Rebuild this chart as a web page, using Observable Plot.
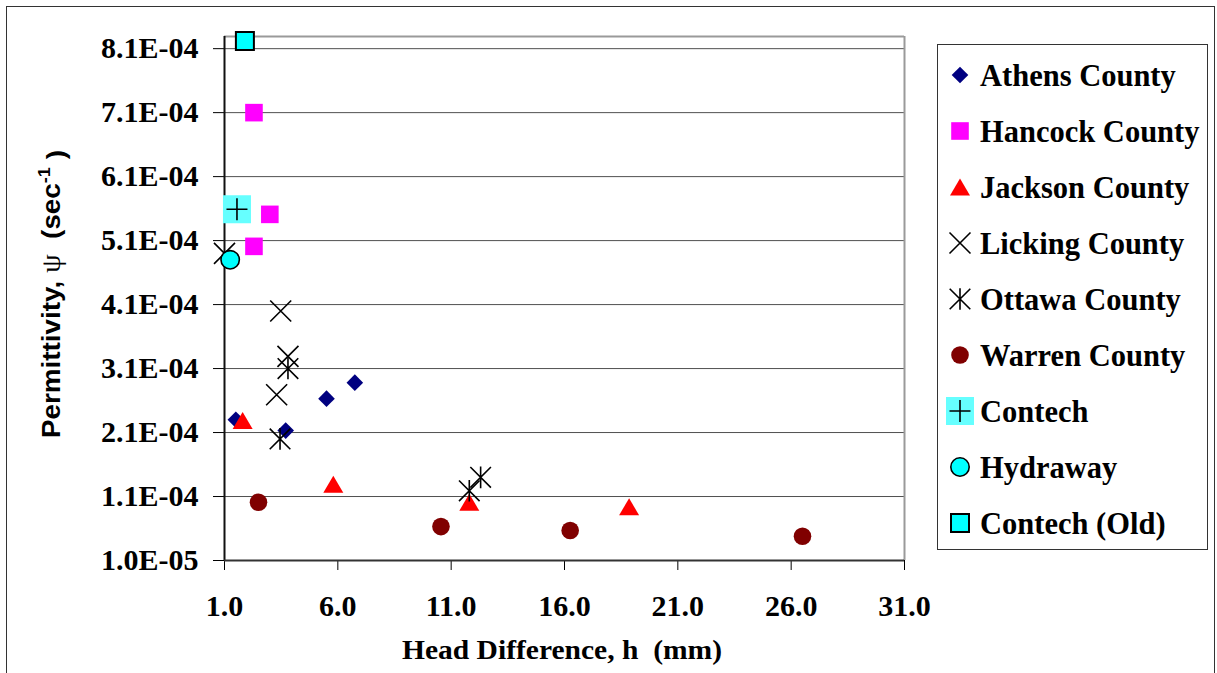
<!DOCTYPE html>
<html>
<head>
<meta charset="utf-8">
<script src="https://cdn.jsdelivr.net/npm/d3@7"></script>
<script src="https://cdn.jsdelivr.net/npm/@observablehq/plot@0.6"></script>
<style>
  html, body { margin: 0; padding: 0; background: white; overflow: hidden; }
  #chart svg { display: block; }
</style>
</head>
<body>
<div id="chart"></div>
<script>
// ---------- data ----------
const xTicks = [1, 6, 11, 16, 21, 26, 31];
const xTickLabels = ["1.0", "6.0", "11.0", "16.0", "21.0", "26.0", "31.0"];
const yTicks = [0.00001, 0.00011, 0.00021, 0.00031, 0.00041, 0.00051, 0.00061, 0.00071, 0.00081];
const yTickLabels = ["1.0E-05", "1.1E-04", "2.1E-04", "3.1E-04", "4.1E-04", "5.1E-04", "6.1E-04", "7.1E-04", "8.1E-04"];
const xDomain = [1, 31];
const yDomain = [0.00001, 0.000829];

const seriesNames = ["Athens County", "Hancock County", "Jackson County", "Licking County",
  "Ottawa County", "Warren County", "Contech", "Hydraway", "Contech (Old)"];

const athens = [[1.5, 0.000230], [3.7, 0.000213], [5.5, 0.000263], [6.75, 0.000288]];
const hancock = [[2.3, 0.000710], [3.0, 0.000551], [2.3, 0.000501]];
const jackson = [[1.8, 0.000229], [5.8, 0.000129], [11.8, 0.000101], [18.85, 0.000094]];
const licking = [[1.0, 0.000490], [3.48, 0.000400], [3.3, 0.000269], [3.8, 0.000329]];
const ottawa = [[3.8, 0.000310], [3.45, 0.000200], [11.8, 0.000119], [12.3, 0.000140]];
const warren = [[2.5, 0.000101], [10.55, 0.000063], [16.25, 0.000057], [26.5, 0.000048]];
const contech = [[1.55, 0.000559]];
const hydraway = [[1.25, 0.000480]];
const contechOld = [[1.9, 0.000822]];

const xTitle = "Head Difference, h  (mm)";

// ---------- symbols (size -> half width r) ----------
const mk = (f) => ({ draw(ctx, size) { f(ctx, Math.sqrt(size / Math.PI)); } });
const symSquare = mk((c, r) => { c.moveTo(-r, -r); c.lineTo(r, -r); c.lineTo(r, r); c.lineTo(-r, r); c.closePath(); });
const symDiamond = mk((c, r) => { c.moveTo(0, -r); c.lineTo(r, 0); c.lineTo(0, r); c.lineTo(-r, 0); c.closePath(); });
const symTriangle = mk((c, r) => { c.moveTo(0, -0.85 * r); c.lineTo(r, 0.85 * r); c.lineTo(-r, 0.85 * r); c.closePath(); });
const symTimes = mk((c, r) => { c.moveTo(-r, -r); c.lineTo(r, r); c.moveTo(-r, r); c.lineTo(r, -r); });
const symAsterisk = mk((c, r) => { c.moveTo(-r, -r); c.lineTo(r, r); c.moveTo(-r, r); c.lineTo(r, -r); c.moveTo(0, -1.05 * r); c.lineTo(0, 1.05 * r); });
const symPlus = mk((c, r) => { c.moveTo(-r, 0); c.lineTo(r, 0); c.moveTo(0, -1.05 * r); c.lineTo(0, 1.05 * r); });
const symCircle = mk((c, r) => { c.moveTo(r, 0); c.arc(0, 0, r, 0, 2 * Math.PI); c.closePath(); });

// layered marker styles for each series (same order as seriesNames)
const seriesStyles = [
  [{ symbol: symDiamond, r: 8.3, fill: "#000080", stroke: "none" }],
  [{ symbol: symSquare, r: 8.8, fill: "#FF00FF", stroke: "none" }],
  [{ symbol: symTriangle, r: 10, fill: "#FF0000", stroke: "none" }],
  [{ symbol: symTimes, r: 10.5, fill: "none", stroke: "#000", strokeWidth: 1.6 }],
  [{ symbol: symAsterisk, r: 10.3, fill: "none", stroke: "#000", strokeWidth: 1.6 }],
  [{ symbol: symCircle, r: 8.8, fill: "#800000", stroke: "none" }],
  [{ symbol: symSquare, r: 14, fill: "#66FFFF", stroke: "none" },
   { symbol: symPlus, r: 10.5, fill: "none", stroke: "#000", strokeWidth: 1.6 }],
  [{ symbol: symCircle, r: 9.2, fill: "#00FFFF", stroke: "#000", strokeWidth: 1.6 }],
  [{ symbol: symSquare, r: 9, fill: "#00FFFF", stroke: "#000", strokeWidth: 2 }]
];
const seriesData = [athens, hancock, jackson, licking, ottawa, warren, contech, hydraway, contechOld];

const serif = "'Liberation Serif', 'Times New Roman', serif";
const sans = "'Liberation Sans', Arial, sans-serif";

const dotMarks = [];
seriesData.forEach((data, i) => {
  seriesStyles[i].forEach(st => {
    dotMarks.push(Plot.dot(data, { x: d => d[0], y: d => d[1], ...st }));
  });
});

const chart = Plot.plot({
  width: 1217,
  height: 673,
  marginLeft: 224,
  marginRight: 313,
  marginTop: 36,
  marginBottom: 113,
  style: { fontFamily: serif, background: "white", color: "black", overflow: "visible" },
  x: { domain: xDomain, label: null },
  y: { domain: yDomain, label: null },
  marks: [
    Plot.gridY(yTicks.slice(1), { stroke: "#505050", strokeOpacity: 1, strokeWidth: 1 }),
    Plot.ruleY([yDomain[1]], { stroke: "#9a9a9a", strokeWidth: 2 }),
    Plot.ruleX([xDomain[1]], { stroke: "#9a9a9a", strokeWidth: 2 }),
    Plot.axisY(yTicks, {
      tickSize: 11, tickPadding: 15, stroke: "#000", strokeWidth: 1,
      tickFormat: d => yTickLabels[yTicks.indexOf(d)],
      fontSize: 30, fontWeight: "bold", fill: "#000", label: null
    }),
    Plot.axisX(xTicks, {
      tickSize: 10, tickPadding: 24, stroke: "#000", strokeWidth: 1,
      tickFormat: d => xTickLabels[xTicks.indexOf(d)],
      fontSize: 30, fontWeight: "bold", fill: "#000", label: null
    }),
    Plot.ruleX([xDomain[0]], { stroke: "#111", strokeWidth: 2 }),
    Plot.ruleY([yDomain[0]], { stroke: "#333", strokeWidth: 2 }),
    ...dotMarks
  ]
});

document.getElementById("chart").appendChild(chart);

// ---------- extra decorations ----------
const svg = d3.select(chart);

// outer chart border
svg.append("rect").attr("x", 6.5).attr("y", 6.5).attr("width", 1208).attr("height", 720)
  .attr("fill", "none").attr("stroke", "#333").attr("stroke-width", 1);

// y-axis title
const yl = svg.append("text")
  .attr("transform", "translate(60,294) rotate(-90)")
  .attr("text-anchor", "middle")
  .attr("textLength", 288).attr("lengthAdjust", "spacingAndGlyphs")
  .style("font-family", sans).style("font-weight", "bold").style("font-size", "26px")
  .style("white-space", "pre").attr("fill", "#000");
yl.append("tspan").text("Permittivity, ");
yl.append("tspan").style("font-family", serif).style("font-weight", "normal").style("font-size", "28px").text("ψ");
yl.append("tspan").text("  (sec");
yl.append("tspan").attr("dy", "-0.6em").style("font-size", "17px").text("-1");
yl.append("tspan").attr("dy", "0.6em").text(" )");

// x-axis title
svg.append("text")
  .attr("x", 562).attr("y", 659)
  .attr("text-anchor", "middle")
  .attr("textLength", 320).attr("lengthAdjust", "spacingAndGlyphs")
  .style("font-family", serif).style("font-weight", "bold").style("font-size", "27px")
  .style("white-space", "pre").attr("fill", "#000")
  .text(xTitle);

// legend
const lg = svg.append("g").attr("text-anchor", "start");
lg.append("rect").attr("x", 937.5).attr("y", 44.5).attr("width", 270).attr("height", 505)
  .attr("fill", "white").attr("stroke", "#333").attr("stroke-width", 1);
seriesNames.forEach((name, i) => {
  const cy = 75 + i * 56;
  seriesStyles[i].forEach(st => {
    lg.append("path")
      .attr("transform", `translate(960,${cy})`)
      .attr("d", d3.symbol(st.symbol, Math.PI * st.r * st.r)())
      .attr("fill", st.fill).attr("stroke", st.stroke)
      .attr("stroke-width", st.strokeWidth || 0);
  });
  lg.append("text").attr("x", 980).attr("y", cy + 10.5)
    .attr("text-anchor", "start")
    .style("font-family", serif).style("font-weight", "bold").style("font-size", "30.5px")
    .attr("fill", "#000").text(name);
});
</script>
</body>
</html>
